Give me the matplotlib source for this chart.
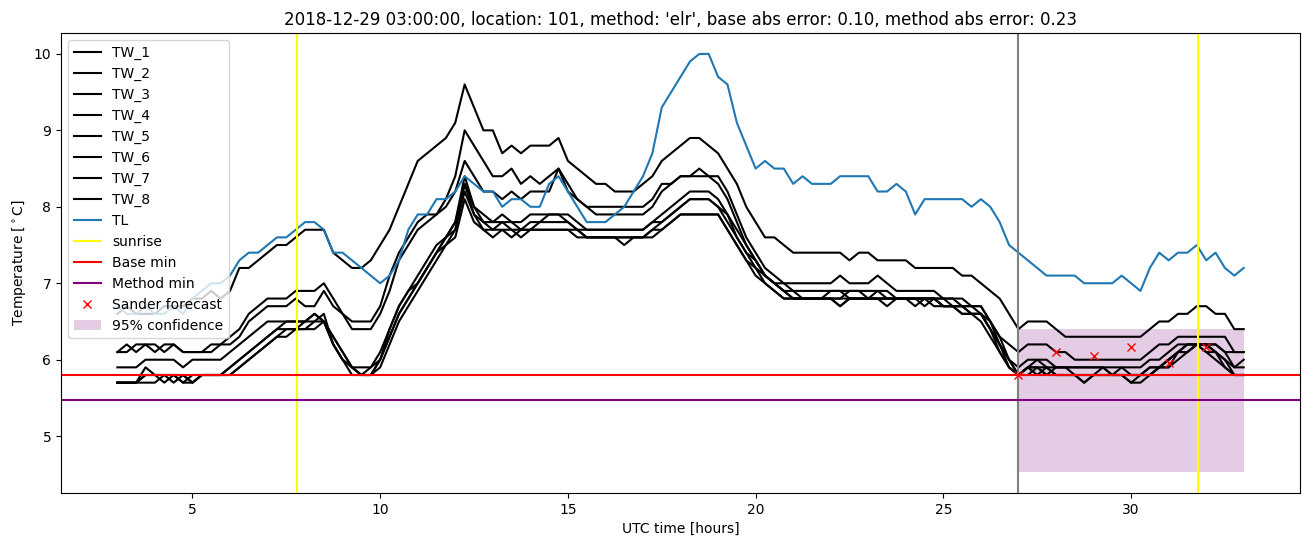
import matplotlib
matplotlib.use("Agg")
import matplotlib.pyplot as plt
import numpy as np

# time axis: 15 min samples from 03:00 to 33:00 UTC
hours = np.linspace(3, 33, 121)

tw_1 = [6.6, 6.7, 6.6, 6.6, 6.6, 6.7, 6.7, 6.7,
        6.8, 6.8, 6.9, 6.8, 6.9, 7.2, 7.2, 7.3,
        7.4, 7.5, 7.5, 7.6, 7.7, 7.7, 7.7, 7.4,
        7.3, 7.2, 7.2, 7.3, 7.5, 7.7, 8.0, 8.3,
        8.6, 8.7, 8.8, 8.9, 9.1, 9.6, 9.3, 9.0,
        9.0, 8.7, 8.8, 8.7, 8.8, 8.8, 8.8, 8.9,
        8.6, 8.5, 8.4, 8.3, 8.3, 8.2, 8.2, 8.2,
        8.3, 8.4, 8.6, 8.7, 8.8, 8.9, 8.9, 8.8,
        8.7, 8.5, 8.3, 8.0, 7.8, 7.6, 7.6, 7.5,
        7.4, 7.4, 7.4, 7.4, 7.4, 7.4, 7.3, 7.4,
        7.4, 7.3, 7.3, 7.3, 7.3, 7.2, 7.2, 7.2,
        7.2, 7.2, 7.1, 7.1, 7.0, 6.9, 6.8, 6.6,
        6.4, 6.5, 6.5, 6.5, 6.4, 6.3, 6.3, 6.3,
        6.3, 6.3, 6.3, 6.3, 6.3, 6.3, 6.4, 6.5,
        6.5, 6.6, 6.6, 6.7, 6.7, 6.6, 6.6, 6.4,
        6.4]
tw_2 = [6.1, 6.2, 6.1, 6.2, 6.2, 6.1, 6.2, 6.1,
        6.1, 6.1, 6.2, 6.2, 6.3, 6.4, 6.6, 6.7,
        6.8, 6.8, 6.8, 6.9, 6.9, 6.9, 7.0, 6.8,
        6.6, 6.5, 6.5, 6.5, 6.7, 7.1, 7.4, 7.6,
        7.8, 7.9, 7.9, 8.1, 8.4, 9.0, 8.8, 8.6,
        8.4, 8.4, 8.5, 8.3, 8.4, 8.3, 8.4, 8.5,
        8.2, 8.1, 8.0, 8.0, 8.0, 8.0, 8.0, 8.0,
        8.0, 8.1, 8.3, 8.3, 8.4, 8.4, 8.5, 8.4,
        8.4, 8.2, 7.9, 7.6, 7.4, 7.2, 7.1, 7.0,
        7.0, 7.0, 7.0, 7.0, 7.0, 7.1, 7.0, 7.0,
        7.0, 7.1, 7.0, 6.9, 6.9, 6.9, 6.9, 6.9,
        6.8, 6.8, 6.8, 6.7, 6.7, 6.5, 6.3, 6.2,
        6.1, 6.2, 6.2, 6.2, 6.1, 6.1, 6.0, 6.0,
        6.0, 6.0, 6.0, 6.0, 6.0, 6.0, 6.1, 6.2,
        6.2, 6.3, 6.3, 6.3, 6.3, 6.3, 6.3, 6.1,
        6.1]
tw_3 = [6.1, 6.1, 6.2, 6.2, 6.1, 6.2, 6.2, 6.1,
        6.1, 6.1, 6.1, 6.2, 6.2, 6.3, 6.5, 6.6,
        6.7, 6.7, 6.7, 6.8, 6.7, 6.7, 6.9, 6.7,
        6.6, 6.4, 6.4, 6.4, 6.6, 6.9, 7.3, 7.5,
        7.7, 7.8, 7.9, 8.0, 8.2, 8.6, 8.4, 8.2,
        8.2, 8.1, 8.2, 8.1, 8.2, 8.2, 8.2, 8.5,
        8.3, 8.1, 8.0, 7.9, 7.9, 7.9, 7.9, 7.9,
        7.9, 8.0, 8.2, 8.3, 8.4, 8.4, 8.4, 8.4,
        8.3, 8.1, 7.8, 7.5, 7.3, 7.1, 7.0, 7.0,
        6.9, 6.9, 6.9, 6.9, 6.9, 6.9, 6.9, 6.9,
        6.9, 6.9, 6.9, 6.8, 6.8, 6.8, 6.8, 6.8,
        6.8, 6.8, 6.7, 6.7, 6.7, 6.5, 6.3, 6.0,
        5.9, 6.0, 6.0, 6.0, 5.9, 5.9, 5.9, 5.9,
        5.9, 5.9, 5.9, 5.9, 5.9, 5.9, 6.0, 6.0,
        6.1, 6.2, 6.2, 6.2, 6.2, 6.2, 6.1, 6.1,
        6.1]
tw_4 = [5.9, 5.9, 5.9, 6.0, 6.0, 6.0, 6.0, 5.9,
        6.0, 6.0, 6.0, 6.0, 6.1, 6.2, 6.3, 6.4,
        6.5, 6.5, 6.5, 6.5, 6.5, 6.6, 6.5, 6.3,
        6.1, 5.9, 5.9, 5.9, 6.1, 6.4, 6.7, 6.9,
        7.1, 7.3, 7.5, 7.6, 7.8, 8.4, 8.0, 7.9,
        7.8, 7.9, 7.8, 7.8, 7.9, 7.9, 7.9, 7.9,
        7.9, 7.8, 7.7, 7.7, 7.7, 7.7, 7.7, 7.7,
        7.7, 7.8, 7.9, 8.0, 8.1, 8.2, 8.2, 8.2,
        8.1, 7.9, 7.7, 7.5, 7.3, 7.1, 7.0, 6.9,
        6.9, 6.8, 6.8, 6.8, 6.9, 6.9, 6.8, 6.8,
        6.8, 6.8, 6.8, 6.8, 6.8, 6.8, 6.8, 6.8,
        6.8, 6.7, 6.7, 6.7, 6.6, 6.5, 6.2, 6.0,
        5.8, 5.9, 6.0, 5.9, 5.9, 5.9, 5.9, 5.9,
        5.9, 5.9, 5.8, 5.9, 5.8, 5.8, 5.9, 5.9,
        6.0, 6.1, 6.2, 6.2, 6.2, 6.2, 6.1, 5.9,
        6.0]
tw_5 = [5.7, 5.7, 5.7, 5.9, 5.8, 5.8, 5.7, 5.8,
        5.7, 5.8, 5.8, 5.8, 5.9, 6.0, 6.1, 6.2,
        6.3, 6.4, 6.5, 6.5, 6.5, 6.6, 6.5, 6.3,
        6.1, 5.9, 5.8, 5.8, 6.0, 6.4, 6.7, 6.9,
        7.0, 7.2, 7.4, 7.6, 7.8, 8.3, 8.0, 7.8,
        7.8, 7.8, 7.8, 7.7, 7.8, 7.8, 7.9, 7.9,
        7.8, 7.7, 7.7, 7.7, 7.7, 7.7, 7.7, 7.7,
        7.7, 7.8, 7.8, 7.9, 8.0, 8.1, 8.1, 8.1,
        8.0, 7.9, 7.6, 7.4, 7.3, 7.1, 7.0, 6.9,
        6.8, 6.8, 6.8, 6.8, 6.8, 6.8, 6.9, 6.9,
        6.8, 6.9, 6.8, 6.8, 6.8, 6.8, 6.7, 6.8,
        6.7, 6.7, 6.7, 6.6, 6.6, 6.4, 6.2, 6.0,
        5.8, 5.9, 5.9, 5.8, 5.9, 5.9, 5.8, 5.8,
        5.8, 5.8, 5.8, 5.8, 5.8, 5.8, 5.9, 5.9,
        6.0, 6.1, 6.2, 6.2, 6.2, 6.1, 6.0, 5.9,
        5.9]
tw_6 = [5.7, 5.7, 5.7, 5.8, 5.8, 5.8, 5.8, 5.7,
        5.8, 5.8, 5.8, 5.8, 5.9, 6.0, 6.1, 6.2,
        6.3, 6.4, 6.4, 6.4, 6.5, 6.5, 6.6, 6.2,
        6.0, 5.9, 5.8, 5.8, 6.0, 6.3, 6.6, 6.8,
        7.0, 7.2, 7.4, 7.6, 7.7, 8.3, 7.9, 7.8,
        7.7, 7.8, 7.7, 7.7, 7.7, 7.8, 7.8, 7.8,
        7.8, 7.7, 7.6, 7.6, 7.6, 7.6, 7.6, 7.6,
        7.6, 7.7, 7.8, 7.9, 8.0, 8.1, 8.1, 8.1,
        8.0, 7.8, 7.6, 7.4, 7.2, 7.1, 7.0, 6.9,
        6.8, 6.8, 6.8, 6.8, 6.8, 6.8, 6.8, 6.8,
        6.8, 6.8, 6.8, 6.8, 6.8, 6.7, 6.8, 6.8,
        6.7, 6.7, 6.7, 6.6, 6.6, 6.4, 6.2, 5.9,
        5.8, 5.9, 5.9, 5.9, 5.8, 5.8, 5.8, 5.7,
        5.8, 5.8, 5.8, 5.8, 5.7, 5.7, 5.8, 5.9,
        6.0, 6.1, 6.1, 6.2, 6.2, 6.1, 6.0, 5.8,
        5.8]
tw_7 = [5.7, 5.7, 5.7, 5.8, 5.8, 5.7, 5.8, 5.8,
        5.7, 5.8, 5.8, 5.8, 5.8, 5.9, 6.0, 6.1,
        6.2, 6.3, 6.4, 6.4, 6.4, 6.5, 6.5, 6.2,
        6.0, 5.9, 5.8, 5.9, 6.0, 6.3, 6.6, 6.8,
        7.0, 7.2, 7.4, 7.5, 7.7, 8.2, 7.9, 7.7,
        7.7, 7.7, 7.6, 7.7, 7.7, 7.7, 7.7, 7.7,
        7.7, 7.7, 7.6, 7.6, 7.6, 7.6, 7.5, 7.6,
        7.6, 7.7, 7.7, 7.8, 7.9, 7.9, 7.9, 7.9,
        7.9, 7.7, 7.5, 7.3, 7.2, 7.0, 6.9, 6.8,
        6.8, 6.8, 6.8, 6.8, 6.8, 6.7, 6.8, 6.8,
        6.8, 6.8, 6.7, 6.8, 6.8, 6.8, 6.8, 6.8,
        6.7, 6.7, 6.6, 6.6, 6.6, 6.4, 6.1, 5.9,
        5.8, 5.8, 5.9, 5.8, 5.8, 5.8, 5.8, 5.7,
        5.8, 5.9, 5.8, 5.8, 5.7, 5.8, 5.8, 5.9,
        5.9, 6.1, 6.1, 6.2, 6.1, 6.1, 5.9, 5.8,
        5.8]
tw_8 = [5.7, 5.7, 5.7, 5.7, 5.7, 5.8, 5.8, 5.7,
        5.7, 5.8, 5.8, 5.8, 5.8, 5.9, 6.0, 6.1,
        6.2, 6.3, 6.3, 6.4, 6.4, 6.4, 6.5, 6.2,
        6.0, 5.8, 5.8, 5.8, 5.9, 6.2, 6.5, 6.7,
        6.9, 7.1, 7.3, 7.5, 7.6, 8.1, 7.8, 7.7,
        7.6, 7.7, 7.7, 7.6, 7.7, 7.7, 7.7, 7.7,
        7.7, 7.6, 7.6, 7.6, 7.6, 7.6, 7.6, 7.6,
        7.6, 7.6, 7.7, 7.8, 7.9, 7.9, 7.9, 7.9,
        7.9, 7.7, 7.5, 7.3, 7.1, 7.0, 6.9, 6.8,
        6.8, 6.8, 6.8, 6.8, 6.8, 6.7, 6.8, 6.8,
        6.8, 6.8, 6.8, 6.8, 6.8, 6.8, 6.8, 6.7,
        6.7, 6.7, 6.6, 6.6, 6.5, 6.3, 6.1, 5.9,
        5.8, 5.9, 5.8, 5.9, 5.8, 5.8, 5.8, 5.8,
        5.8, 5.8, 5.8, 5.8, 5.8, 5.8, 5.8, 5.9,
        5.9, 6.0, 6.1, 6.2, 6.1, 6.0, 5.9, 5.8,
        5.8]
tl = [6.7, 6.6, 6.6, 6.7, 6.6, 6.6, 6.7, 6.6,
      6.8, 6.9, 7.0, 7.0, 7.1, 7.3, 7.4, 7.4,
      7.5, 7.6, 7.6, 7.7, 7.8, 7.8, 7.7, 7.4,
      7.4, 7.3, 7.2, 7.1, 7.0, 7.1, 7.3, 7.7,
      7.9, 7.9, 8.1, 8.1, 8.2, 8.4, 8.3, 8.2,
      8.2, 8.0, 8.1, 8.1, 8.0, 8.0, 8.3, 8.4,
      8.2, 8.0, 7.8, 7.8, 7.8, 7.9, 8.0, 8.2,
      8.4, 8.7, 9.3, 9.5, 9.7, 9.9, 10.0, 10.0,
      9.7, 9.6, 9.1, 8.8, 8.5, 8.6, 8.5, 8.5,
      8.3, 8.4, 8.3, 8.3, 8.3, 8.4, 8.4, 8.4,
      8.4, 8.2, 8.2, 8.3, 8.2, 7.9, 8.1, 8.1,
      8.1, 8.1, 8.1, 8.0, 8.1, 8.0, 7.8, 7.5,
      7.4, 7.3, 7.2, 7.1, 7.1, 7.1, 7.1, 7.0,
      7.0, 7.0, 7.0, 7.1, 7.0, 6.9, 7.2, 7.4,
      7.3, 7.4, 7.4, 7.5, 7.3, 7.4, 7.2, 7.1,
      7.2]

sunrise = [7.78, 31.78]
forecast_time = 27.0
base_min = 5.80
method_min = 5.47

sander_hours = [27, 28, 29, 30, 31, 32]
sander_temp = [5.80, 6.10, 6.05, 6.17, 5.96, 6.17]

conf_hours = [27, 33]
conf_low = 4.53
conf_high = 6.40

tw_series = [tw_1, tw_2, tw_3, tw_4, tw_5, tw_6, tw_7, tw_8]

fig = plt.figure(figsize=(13.1, 5.47), dpi=100)
ax = fig.add_subplot(111)
fig.subplots_adjust(left=0.0466, right=0.9924, bottom=0.0987, top=0.9397)

for i, tw in enumerate(tw_series):
    ax.plot(hours, tw, color='black', label='TW_%d' % (i + 1))
ax.plot(hours, tl, color='C0', label='TL')

ax.axvline(sunrise[0], color='yellow', label='sunrise')
ax.axvline(sunrise[1], color='yellow')
ax.axvline(forecast_time, color='grey')
ax.axhline(base_min, color='red', label='Base min')
ax.axhline(method_min, color='purple', label='Method min')
ax.plot(sander_hours, sander_temp, 'rx', label='Sander forecast')
ax.fill_between(conf_hours, conf_low, conf_high, color='purple', alpha=0.2,
                linewidth=0, label='95% confidence')

ax.set_title("2018-12-29 03:00:00, location: 101, method: 'elr', "
             "base abs error: 0.10, method abs error: 0.23")
ax.set_xlabel('UTC time [hours]')
ax.set_ylabel(r'Temperature [$^\circ$C]')
ax.legend(loc='upper left')

plt.savefig('out.png', dpi=100)
